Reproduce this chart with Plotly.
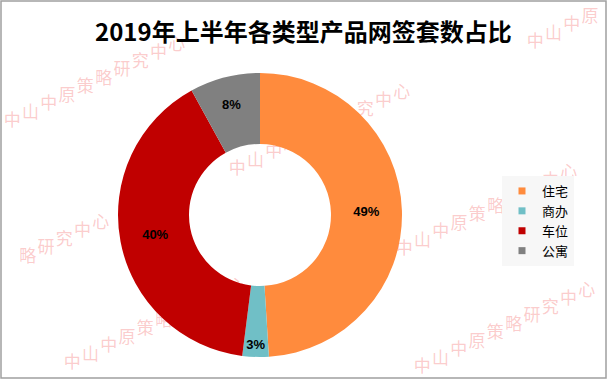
import plotly.graph_objects as go

title_text = "2019年上半年各类型产品网签套数占比"
categories = ["住宅", "商办", "车位", "公寓"]
values = [49, 3, 40, 8]
colors = ["#FF8B3D", "#70BFC6", "#C00000", "#808080"]
watermark = "中山中原策略研究中心"

W, H = 607, 379

def px(x, y):
    return x / W, 1 - y / H

fig = go.Figure()

fig.add_trace(go.Pie(
    labels=categories,
    values=values,
    hole=0.5,
    sort=False,
    direction="clockwise",
    rotation=0,
    marker=dict(colors=colors, line=dict(width=0)),
    texttemplate="%{percent:.0%}",
    textposition="inside",
    insidetextorientation="horizontal",
    textfont=dict(family="Liberation Sans Narrow, Arial Narrow, Liberation Sans", size=13,
                  color="black", weight="bold"),
    domain=dict(x=[118 / W, 402 / W], y=[1 - 357 / H, 1 - 73 / H]),
    showlegend=False,
    hoverinfo="label+percent",
))

for name, col in zip(categories, colors):
    fig.add_trace(go.Scatter(
        x=[None], y=[None], mode="markers", name=name,
        marker=dict(symbol="square", size=7, color=col),
    ))

# watermark start points (px); each runs up-right at the same slant,
# drawn character by character along the slant, beneath the pie
wm_starts = [(3, 126), (228, 174), (526, 47), (395, 254), (413, 372), (-73, 304), (63, 368)]
DX, DY = 183, -85
shapes = []
n = len(watermark)
for sx, sy in wm_starts:
    for i, ch in enumerate(watermark):
        cx = sx + (i + 0.5) * DX / n
        cy = sy + (i + 0.5) * DY / n
        if cx < 10 or cx > W - 10 or cy < 13 or cy > H - 10:
            continue
        x0, y0 = px(cx - 1, cy)
        x1, y1 = px(cx + 1, cy)
        shapes.append(dict(
            type="line", xref="paper", yref="paper", x0=x0, y0=y0, x1=x1, y1=y1,
            layer="below", line=dict(width=0, color="rgba(0,0,0,0)"),
            label=dict(text=ch, textposition="middle", textangle=0,
                       xanchor="center", yanchor="middle", padding=0,
                       font=dict(family="Noto Sans CJK SC", size=17,
                                 color="rgba(245,110,110,0.36)")),
        ))

shapes.append(dict(type="rect", xref="paper", yref="paper",
                   x0=1 / W, x1=606 / W, y0=1 / H, y1=1 - 1 / H,
                   line=dict(color="#A0A0A0", width=1.5)))

tx, ty = px(303, 30)
annotations = [dict(
    text=title_text, x=tx, y=ty, xref="paper", yref="paper", showarrow=False,
    xanchor="center", yanchor="middle",
    font=dict(family="Noto Sans CJK SC", size=24, color="black", weight="bold"),
)]

fig.update_layout(
    width=W, height=H,
    margin=dict(l=0, r=0, t=0, b=0),
    paper_bgcolor="white", plot_bgcolor="rgba(0,0,0,0)",
    xaxis=dict(visible=False), yaxis=dict(visible=False),
    uniformtext=dict(minsize=13, mode="show"),
    annotations=annotations,
    legend=dict(
        x=502 / W, y=1 - 176 / H, xanchor="left", yanchor="top",
        bgcolor="#F7F7F7",
        font=dict(family="Noto Sans CJK SC", size=13, color="black"),
        itemclick=False,
    ),
    shapes=shapes,
)

fig.write_html("out.html")
